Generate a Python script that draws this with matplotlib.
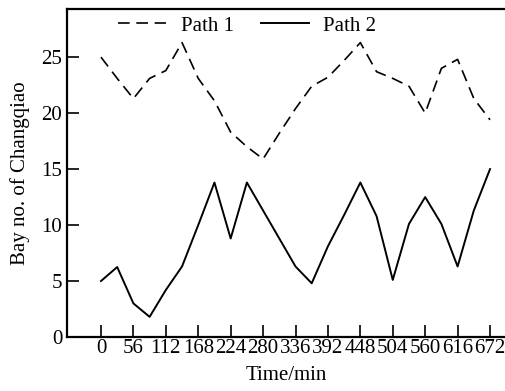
import numpy as np
import matplotlib
matplotlib.use("Agg")
import matplotlib.pyplot as plt

plt.rcParams['font.family'] = ['Liberation Serif', 'DejaVu Serif']

time_min = np.arange(0, 673, 28)
path1 = [25.0, 23.1, 21.3, 23.1, 23.8, 26.3, 23.1, 21.1, 18.3, 17.0, 15.9, 18.2, 20.4,
         22.4, 23.2, 24.7, 26.3, 23.7, 23.1, 22.4, 20.0, 24.0, 24.8, 21.3, 19.4]
path2 = [5.0, 6.25, 3.0, 1.8, 4.2, 6.3, 10.0, 13.8, 8.8, 13.8, 11.3, 8.8, 6.3,
         4.8, 8.1, 10.9, 13.8, 10.8, 5.1, 10.1, 12.5, 10.1, 6.3, 11.3, 15.0]
xticks = np.arange(0, 673, 56)
yticks = [0, 5, 10, 15, 20, 25]

fig = plt.figure(figsize=(5.06, 3.91), dpi=100)
ax = fig.add_axes([67/506, 1 - 337/391, 1 - 67/506, (337 - 9)/391])

ax.plot(time_min, path1, color="black", lw=1.2, ls=(0, (7, 4)), label="Path 1")
ax.plot(time_min, path2, color="black", lw=1.4, label="Path 2")

ax.set_xlim(-58.7, 699.6)
ax.set_ylim(0, 29.3)
ax.set_xticks(xticks)
ax.set_yticks(yticks)
ax.tick_params(direction="in", length=8.5, width=1.2, labelsize=15)
ax.tick_params(axis="x", pad=1.5)
ax.tick_params(axis="y", pad=3.5)
ax.spines["right"].set_visible(False)
for s in ["left", "bottom", "top"]:
    ax.spines[s].set_linewidth(1.6)

ax.set_xlabel("Time/min", fontsize=15, labelpad=6)
ax.set_ylabel("Bay no. of Changqiao", fontsize=15, labelpad=8)

ax.legend(loc="upper left", bbox_to_anchor=(114/506, 1 - 12/391), bbox_transform=fig.transFigure,
          ncol=2, frameon=False, fontsize=15, handlelength=2.3, handletextpad=0.7,
          columnspacing=1.3, borderaxespad=0.0, borderpad=0.2)

fig.savefig("out.png", dpi=100)
